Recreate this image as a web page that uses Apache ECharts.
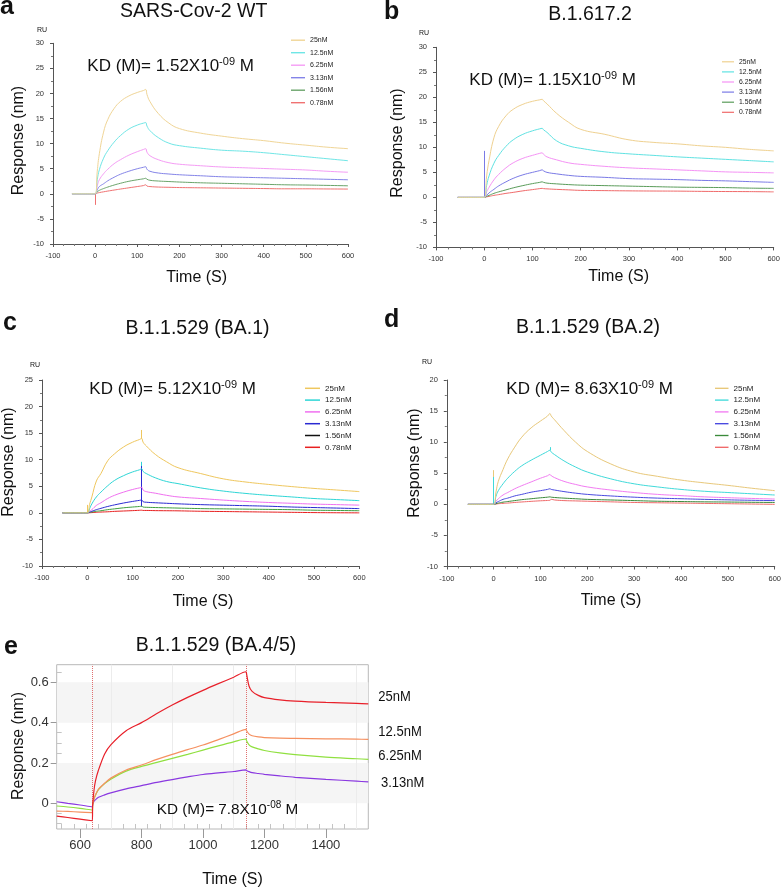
<!DOCTYPE html>
<html><head><meta charset="utf-8">
<script src="https://cdn.jsdelivr.net/npm/echarts@6/dist/echarts.min.js"></script>
<style>html,body{margin:0;padding:0;background:#fff}#c{width:784px;height:889px}</style>
</head><body><div id="c"></div>
<script>
// ---------- data ----------
const concLabels = ['25nM', '12.5nM', '6.25nM', '3.13nM', '1.56nM', '0.78nM'];
const timeAD = [-55, -30, 0, 5, 10, 20, 30, 45, 60, 80, 100, 115, 120, 123, 130, 150, 175, 200, 250, 300, 350, 400, 450, 500, 550, 600];

const a25 = [0,0,0,4.5,8,12.3,14.8,17,18.4,19.5,20.2,20.6,20.8,19.8,18.4,16.0,14.1,13.0,12.1,11.5,11.0,10.6,10.1,9.7,9.3,9.0];
const a12 = [0,0,0,2.8,4.8,7.1,8.6,10.3,11.6,12.9,13.7,14.1,14.2,13.5,12.6,11.2,10.1,9.6,9.1,8.7,8.5,8.2,7.8,7.4,7.0,6.6];
const a6  = [0,0,0,1.6,2.8,4.0,4.9,6.0,6.8,7.7,8.4,8.85,9.0,8.3,7.6,6.8,6.2,5.9,5.6,5.35,5.2,5.05,4.9,4.75,4.5,4.3];
const a3  = [0,0,0,0.8,1.45,2.0,2.6,3.3,3.9,4.5,5.0,5.3,5.4,4.9,4.5,4.15,3.95,3.8,3.6,3.4,3.3,3.2,3.1,3.0,2.9,2.8];
const a1  = [0,0,0,0.4,0.7,1.05,1.35,1.75,2.1,2.5,2.8,3.0,3.1,2.9,2.7,2.55,2.45,2.35,2.2,2.1,2.0,1.9,1.8,1.75,1.68,1.6];
const a0  = [0,0,0,0.15,0.25,0.4,0.55,0.75,0.95,1.2,1.45,1.65,1.8,1.55,1.45,1.35,1.3,1.25,1.2,1.15,1.1,1.05,1.0,1.0,0.97,0.95];

const b25 = [0,0,0,4.3,7.4,11.9,14.2,16.3,17.6,18.6,19.2,19.5,19.6,19.3,18.7,16.8,15.0,13.6,12.6,11.5,11.0,10.7,10.3,10.0,9.6,9.3];
const b12 = [0,0,0,2.4,4.3,6.8,8.4,10.2,11.5,12.6,13.3,13.7,13.8,13.5,13.0,11.3,10.3,9.8,9.1,8.7,8.4,8.1,7.85,7.6,7.35,7.1];
const b6  = [0,0,0,1.1,2.0,3.5,4.6,5.9,6.9,7.8,8.4,8.8,8.9,8.6,8.1,7.5,6.9,6.6,6.2,5.9,5.7,5.5,5.3,5.1,5.0,4.9];
const b3  = [0,0,0,0.4,0.9,1.6,2.3,3.1,3.8,4.5,5.0,5.35,5.5,5.3,5.0,4.7,4.4,4.2,4.0,3.75,3.65,3.55,3.4,3.3,3.15,3.0];
const b1  = [0,0,0,0.2,0.4,0.8,1.1,1.5,1.9,2.35,2.75,3.0,3.1,3.0,2.85,2.7,2.55,2.45,2.35,2.25,2.15,2.05,2.0,1.95,1.85,1.8];
const b0  = [0,0,0,0.1,0.2,0.4,0.55,0.8,1.0,1.3,1.55,1.75,1.8,1.75,1.7,1.6,1.5,1.4,1.35,1.3,1.27,1.25,1.2,1.17,1.15,1.1];

const c25 = [0,0,0,1.6,3.0,6.0,7.4,9.8,11.1,12.4,13.3,13.8,14.0,13.3,12.6,11.0,9.6,8.5,7.4,6.4,5.8,5.35,4.95,4.6,4.3,4.0];
const c12 = [0,0,0,0.8,1.7,3.0,3.9,5.1,6.1,7.0,7.7,8.1,8.3,7.8,7.4,6.6,5.9,5.5,4.7,4.1,3.65,3.3,3.0,2.7,2.5,2.3];
const c6  = [0,0,0,0.3,0.6,1.4,1.9,2.7,3.3,3.9,4.4,4.7,4.8,4.3,4.0,3.7,3.3,3.0,2.7,2.4,2.15,1.95,1.8,1.65,1.55,1.45];
const c3  = [0,0,0,0.15,0.3,0.6,0.85,1.2,1.5,1.85,2.15,2.35,2.4,2.1,2.0,1.9,1.8,1.7,1.55,1.45,1.35,1.25,1.1,1.0,0.9,0.8];
const c1  = [0,0,0,0.1,0.15,0.3,0.4,0.6,0.75,0.95,1.1,1.2,1.25,1.1,1.05,1.0,0.95,0.9,0.8,0.75,0.7,0.65,0.6,0.5,0.45,0.4];
const c0  = [0,0,0,0.02,0.05,0.1,0.15,0.2,0.28,0.35,0.42,0.48,0.5,0.45,0.45,0.42,0.4,0.38,0.3,0.25,0.2,0.15,0.1,0.05,0.02,0.0];

const d25 = [0,0,0,2.0,3.7,5.6,7.3,9.2,10.8,12.3,13.4,14.2,14.6,14.2,13.6,11.9,10.0,8.5,6.5,5.2,4.5,3.9,3.45,3.05,2.6,2.2];
const d12 = [0,0,0,1.3,2.2,3.3,4.2,5.3,6.2,7.1,7.9,8.5,8.7,8.4,8.0,7.0,6.0,5.2,4.1,3.3,2.8,2.4,2.1,1.9,1.7,1.5];
const d6  = [0,0,0,0.5,0.9,1.5,1.9,2.5,3.0,3.6,4.2,4.6,4.8,4.6,4.3,3.7,3.2,2.8,2.3,1.9,1.6,1.4,1.2,1.07,0.95,0.85];
const d3  = [0,0,0,0.25,0.45,0.8,1.0,1.35,1.6,1.95,2.2,2.4,2.5,2.4,2.3,2.05,1.8,1.6,1.35,1.15,1.0,0.9,0.8,0.72,0.65,0.6];
const d1  = [0,0,0,0.1,0.2,0.35,0.45,0.6,0.75,0.9,1.05,1.15,1.2,1.15,1.1,1.0,0.9,0.8,0.7,0.6,0.5,0.45,0.4,0.37,0.33,0.3];
const d0  = [0,0,0,0.05,0.1,0.15,0.2,0.3,0.38,0.48,0.57,0.62,0.65,0.8,0.7,0.6,0.55,0.5,0.4,0.3,0.25,0.2,0.15,0.1,0.05,0.0];

// spikes: [time, from, to, concentration index]
const aSpikes = [[0, 0, -2.2, 5]];
const bSpikes = [[0, 0, 9.3, 3]];
const cSpikes = [[120, 14.0, 15.6, 0], [120, 8.3, 9.6, 1], [120, 1.2, 8.8, 3], [0, 0, 1.5, 0]];
const dSpikes = [[0, 0, 5.5, 0], [0, 0, 4.4, 1], [120, 8.7, 9.2, 1]];

// panel e
const eLabels = ['25nM', '12.5nM', '6.25nM', '3.13nM'];
const eTime = [524,560,600,640,641,645,650,660,680,700,750,800,850,900,950,1000,1050,1100,1140,1142,1150,1160,1180,1200,1250,1300,1400,1500,1538];
const e25 = [-0.063,-0.070,-0.078,-0.086,-0.01,0.06,0.11,0.165,0.245,0.29,0.36,0.40,0.445,0.487,0.525,0.56,0.593,0.625,0.652,0.64,0.58,0.555,0.535,0.524,0.513,0.507,0.500,0.495,0.493];
const e12 = [-0.038,-0.040,-0.043,-0.046,-0.005,0.02,0.04,0.07,0.10,0.125,0.165,0.19,0.218,0.243,0.266,0.289,0.316,0.344,0.367,0.36,0.343,0.335,0.329,0.326,0.323,0.322,0.320,0.318,0.317];
const e6  = [-0.013,-0.018,-0.025,-0.033,-0.005,0.02,0.04,0.068,0.098,0.12,0.16,0.183,0.203,0.223,0.243,0.264,0.285,0.305,0.319,0.31,0.29,0.28,0.27,0.262,0.25,0.241,0.229,0.221,0.218];
const e3  = [0.008,0.0,-0.008,-0.017,-0.005,0.01,0.018,0.03,0.042,0.052,0.072,0.088,0.104,0.118,0.131,0.143,0.151,0.158,0.166,0.163,0.157,0.152,0.148,0.144,0.136,0.129,0.119,0.110,0.106];
const eXTicks = [600, 800, 1000, 1200, 1400];
const eYTicks = [0, 0.2, 0.4, 0.6];
const eXMinor = [540,580,620,660,700,740,780,820,860,900,940,980,1020,1060,1100,1140,1180,1220,1260,1300,1340,1380,1420,1460,1500];
const eYMinor = [-0.1,-0.05,0.05,0.1,0.15,0.25,0.3,0.35,0.45,0.5,0.55,0.65];
const eGridX = [700, 900, 1100, 1300, 1500];
const eInjection = [640, 1140];

// ---------- styling ----------
const SANS = '"Liberation Sans", Arial, sans-serif';
const palettes = {
  a: ['#f0d596', '#6fe6e6', '#f59cf5', '#8484e8', '#6aa46a', '#f07272'],
  b: ['#efd190', '#5fe2e2', '#f592f5', '#7a7ae6', '#5a9c5a', '#f06a6a'],
  c: ['#efc75e', '#2ed6d6', '#f070f0', '#2a2ad2', '#3e9e3e', '#e82020'],
  d: ['#e8c87a', '#40dada', '#f27cf2', '#4a4ae0', '#3a8a3a', '#f06a6a']
};
const eColors = ['#e8202a', '#f59060', '#90e040', '#8a38e0'];
const LEG_ICON = 'path://M0,0H20V2H0Z';

const panels = [
  {key: 'a', vals: [a25, a12, a6, a3, a1, a0], spikes: aSpikes, grid: {left: 53, top: 43.3, width: 295, height: 200.7}, ymax: 30,
   legend: {left: 291, top: 36.7, gap: 5.5, w: 14, fs: 7}},
  {key: 'b', vals: [b25, b12, b6, b3, b1, b0], spikes: bSpikes, grid: {left: 436, top: 47.3, width: 337.7, height: 200.1}, ymax: 30,
   legend: {left: 722, top: 58.3, gap: 3.1, w: 12, fs: 6.8}},
  {key: 'c', vals: [c25, c12, c6, c3, c1, c0], spikes: cSpikes, grid: {left: 42, top: 380, width: 317.3, height: 186}, ymax: 25,
   legend: {left: 305, top: 384.3, gap: 3.8, w: 15, fs: 8}},
  {key: 'd', vals: [d25, d12, d6, d3, d1, d0], spikes: dSpikes, grid: {left: 446.8, top: 380, width: 328.5, height: 186.5}, ymax: 20,
   legend: {left: 715, top: 384.3, gap: 3.8, w: 13.5, fs: 8}}
];

const grids = [], xAxes = [], yAxes = [], series = [], legends = [];
panels.forEach((p, gi) => {
  grids.push(Object.assign({}, p.grid));
  xAxes.push({
    gridIndex: gi, type: 'value', min: -100, max: 600, interval: 100, position: 'bottom',
    axisLine: {show: true, onZero: false, lineStyle: {color: '#555', width: 1}},
    axisTick: {show: true, length: 3, lineStyle: {color: '#555'}},
    minorTick: {show: true, splitNumber: 4, length: 2, lineStyle: {color: '#777'}},
    axisLabel: {fontSize: 7.5, color: '#333', margin: 8, fontFamily: SANS},
    splitLine: {show: false}
  });
  yAxes.push({
    gridIndex: gi, type: 'value', min: -10, max: p.ymax, interval: 5, position: 'left',
    axisLine: {show: true, onZero: false, lineStyle: {color: '#555', width: 1}},
    axisTick: {show: true, length: 3, lineStyle: {color: '#555'}},
    minorTick: {show: true, splitNumber: 2, length: 2, lineStyle: {color: '#777'}},
    axisLabel: {fontSize: 7.5, color: '#333', margin: 9, fontFamily: SANS},
    splitLine: {show: false}
  });
  const names = [];
  p.vals.forEach((arr, ci) => {
    const name = p.key + '|' + concLabels[ci];
    names.push(p.key === 'c' && ci === 4 ? {name: name, itemStyle: {color: '#111'}} : name);
    const color = palettes[p.key][ci];
    const mySpikes = p.spikes.filter(s => s[3] === ci);
    series.push({
      type: 'line', name: name, xAxisIndex: gi, yAxisIndex: gi,
      data: timeAD.map((t, i) => [t, arr[i]]),
      showSymbol: false, symbol: 'none', smooth: 0.45,
      lineStyle: {color: color, width: 1}, itemStyle: {color: color},
      silent: true, animation: false, z: 10 - ci,
      markLine: mySpikes.length ? {
        silent: true, symbol: ['none', 'none'], label: {show: false},
        lineStyle: {color: color, width: 1, type: 'solid'},
        data: mySpikes.map(s => [{coord: [s[0], s[1]]}, {coord: [s[0], s[2]]}])
      } : undefined
    });
  });
  legends.push({
    orient: 'vertical', left: p.legend.left, top: p.legend.top, itemWidth: p.legend.w, itemHeight: 10,
    itemGap: p.legend.gap, padding: 0, data: names, selectedMode: false, icon: LEG_ICON,
    formatter: n => n.split('|')[1],
    textStyle: {fontSize: p.legend.fs, color: '#222', fontFamily: SANS}
  });
});

// panel e
const EG = 4;
grids.push({left: 56.7, top: 664.7, width: 311.6, height: 164.3, show: true, borderColor: '#b8b8b8', borderWidth: 1, backgroundColor: 'transparent'});
xAxes.push({
  gridIndex: EG, type: 'value', min: 524, max: 1538, position: 'bottom',
  axisLine: {show: false, onZero: false},
  axisTick: {show: true, length: 9, customValues: eXTicks, lineStyle: {color: '#999'}},
  axisLabel: {customValues: eXTicks, fontSize: 13, color: '#333', margin: 10, fontFamily: SANS, formatter: v => String(v)},
  splitLine: {show: false}
});
xAxes.push({
  gridIndex: EG, type: 'value', min: 524, max: 1538, position: 'bottom',
  axisLine: {show: false, onZero: false},
  axisTick: {show: true, inside: true, length: 5, customValues: eXMinor, lineStyle: {color: '#c4c4c4'}},
  axisLabel: {show: false}, splitLine: {show: false}
});
yAxes.push({
  gridIndex: EG, type: 'value', min: -0.127, max: 0.687, position: 'left',
  axisLine: {show: false, onZero: false},
  axisTick: {show: true, length: 6, customValues: eYTicks, lineStyle: {color: '#999'}},
  axisLabel: {customValues: eYTicks, fontSize: 13, color: '#333', margin: 8, fontFamily: SANS,
              formatter: v => (v === 0 ? '0' : String(v))},
  splitLine: {show: false}
});
yAxes.push({
  gridIndex: EG, type: 'value', min: -0.127, max: 0.687, position: 'left',
  axisLine: {show: false, onZero: false},
  axisTick: {show: true, inside: true, length: 5, customValues: eYMinor, lineStyle: {color: '#c4c4c4'}},
  axisLabel: {show: false}, splitLine: {show: false}
});
const eArrs = [e25, e12, e6, e3];
eArrs.forEach((arr, ci) => {
  const s = {
    type: 'line', name: 'e|' + eLabels[ci], xAxisIndex: 4, yAxisIndex: 4,
    data: eTime.map((t, i) => [t, arr[i]]),
    showSymbol: false, symbol: 'none', smooth: 0.3,
    lineStyle: {color: eColors[ci], width: 1.2}, itemStyle: {color: eColors[ci]},
    silent: true, animation: false, z: 10 - ci
  };
  if (ci === 0) {
    s.markArea = {silent: true, itemStyle: {color: '#f5f5f5'},
      data: [[{yAxis: 0.4}, {yAxis: 0.6}], [{yAxis: 0}, {yAxis: 0.2}]]};
    s.markLine = {silent: true, symbol: ['none', 'none'], label: {show: false},
      data: eGridX.map(x => ({xAxis: x, lineStyle: {color: '#ececec', width: 1, type: 'solid'}}))
        .concat(eInjection.map(x => ({xAxis: x, lineStyle: {color: '#e07070', width: 1, type: 'dotted'}})))};
  }
  series.push(s);
});

// ---------- texts ----------
function txt(x, y, text, font, align, extra) {
  return Object.assign({type: 'text', x: x, y: y, silent: true, z: 100,
    style: {text: text, font: font, fill: '#111', align: align || 'left', textAlign: align || 'left',
            verticalAlign: 'middle', textVerticalAlign: 'middle'}}, extra || {});
}
function kd(x, y, val, exp, fs) {
  return {type: 'text', x: x, y: y, silent: true, z: 100,
    style: {text: '{m|KD (M)= ' + val + 'X10}{s|' + exp + '}{m| M}', fill: '#111',
      verticalAlign: 'middle', textVerticalAlign: 'middle', align: 'left', textAlign: 'left',
      rich: {m: {fontSize: fs, fontFamily: SANS, lineHeight: fs + 3, fill: '#111'},
             s: {fontSize: Math.round(fs * 0.65), fontFamily: SANS, lineHeight: fs + 3, verticalAlign: 'top', fill: '#111'}}}};
}
const T = 'normal 19.5px ' + SANS, L = 'bold 25px ' + SANS, AX = 'normal 16px ' + SANS, RU = 'normal 7px ' + SANS;
const rot = {rotation: Math.PI / 2};
const narrow = {scaleX: 0.84};
const EF = 'normal 15.5px ' + SANS;
const graphics = [
  txt(0, 7, 'a', L), txt(384, 12, 'b', L), txt(3, 323.5, 'c', L), txt(384, 320, 'd', L), txt(4, 647, 'e', L),
  txt(193.7, 11.7, 'SARS-Cov-2 WT', T, 'center'),
  txt(590, 15, 'B.1.617.2', T, 'center'),
  txt(197.5, 329, 'B.1.1.529 (BA.1)', T, 'center'),
  txt(588, 327.5, 'B.1.1.529 (BA.2)', T, 'center'),
  txt(216, 645.5, 'B.1.1.529 (BA.4/5)', T, 'center'),
  kd(87.3, 66.7, '1.52', '-09', 17), kd(469.3, 80, '1.15', '-09', 17),
  kd(89.3, 389.3, '5.12', '-09', 17), kd(506.3, 389.3, '8.63', '-09', 17),
  kd(156.7, 809.7, '7.8', '-08', 15.3),
  txt(42, 30, 'RU', RU, 'center'), txt(424, 33, 'RU', RU, 'center'),
  txt(35, 365, 'RU', RU, 'center'), txt(427, 362, 'RU', RU, 'center'),
  txt(18.3, 140.5, 'Response (nm)', AX, 'center', rot), txt(196.7, 277.3, 'Time (S)', AX, 'center'),
  txt(398, 143, 'Response (nm)', AX, 'center', rot), txt(618.7, 277, 'Time (S)', AX, 'center'),
  txt(8.5, 462, 'Response (nm)', AX, 'center', rot), txt(203, 601.7, 'Time (S)', AX, 'center'),
  txt(414.5, 463, 'Response (nm)', AX, 'center', rot), txt(611, 601, 'Time (S)', AX, 'center'),
  txt(18.3, 746, 'Response (nm)', 'normal 15.8px ' + SANS, 'center', rot), txt(232.5, 880, 'Time (S)', AX, 'center'),
  txt(378.3, 697, eLabels[0], EF, 'left', narrow), txt(378.3, 732, eLabels[1], EF, 'left', narrow),
  txt(378.3, 756, eLabels[2], EF, 'left', narrow), txt(381, 783, eLabels[3], EF, 'left', narrow)
];

const chart = echarts.init(document.getElementById('c'), null, {renderer: 'canvas'});
chart.setOption({
  animation: false, backgroundColor: '#fff',
  grid: grids, xAxis: xAxes, yAxis: yAxes, series: series, legend: legends,
  graphic: {elements: graphics}
});
</script></body></html>
